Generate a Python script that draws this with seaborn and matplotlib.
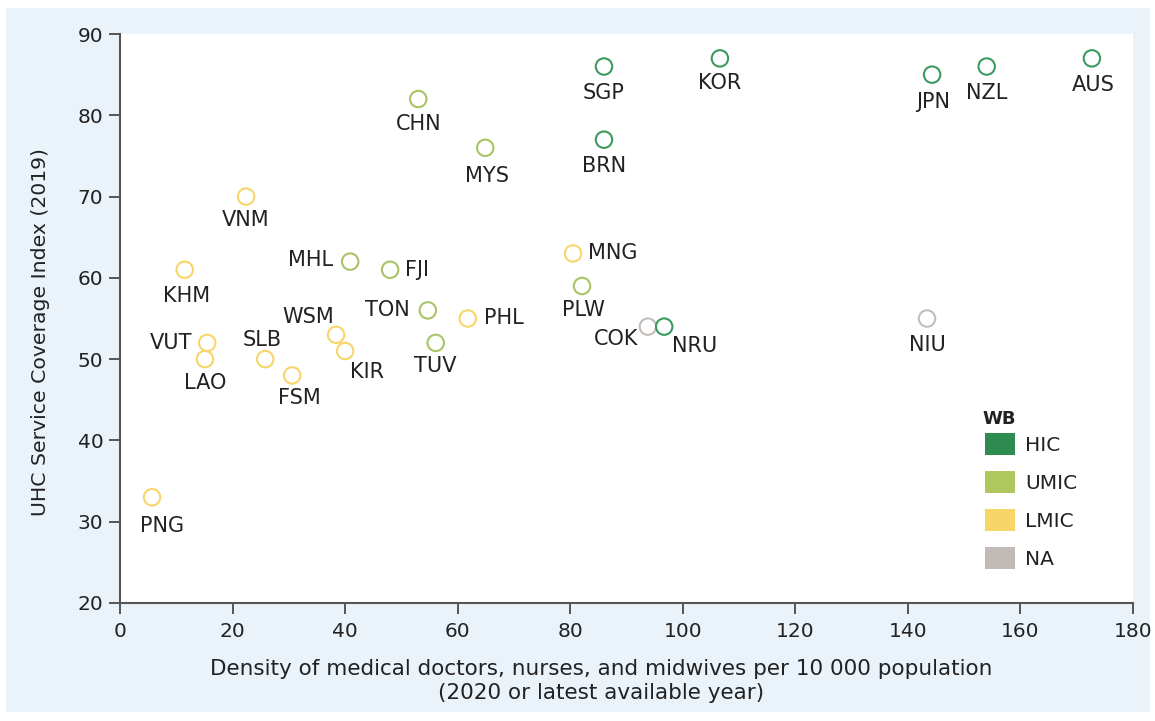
import numpy as np
import pandas as pd
import matplotlib
matplotlib.use("Agg")
import matplotlib.pyplot as plt
import matplotlib.patches as mpatches
import seaborn as sns

# Data
countries = ["PNG", "KHM", "VUT", "LAO", "VNM", "SLB", "FSM", "WSM", "KIR", "MHL",
             "FJI", "CHN", "TON", "TUV", "PHL", "MYS", "MNG", "PLW", "SGP", "BRN",
             "COK", "NRU", "KOR", "NIU", "JPN", "NZL", "AUS"]
density = [5.7, 11.5, 15.5, 15.1, 22.4, 25.8, 30.6, 38.4, 40.0, 40.9,
           48.0, 53.0, 54.7, 56.1, 61.8, 64.9, 80.5, 82.1, 86.0, 86.0,
           93.8, 96.7, 106.6, 143.4, 144.3, 154.0, 172.7]
uhc = [33, 61, 52, 50, 70, 50, 48, 53, 51, 62,
       61, 82, 56, 52, 55, 76, 63, 59, 86, 77,
       54, 54, 87, 55, 85, 86, 87]
income = ["LMIC", "LMIC", "LMIC", "LMIC", "LMIC", "LMIC", "LMIC", "LMIC", "LMIC", "UMIC",
          "UMIC", "UMIC", "UMIC", "UMIC", "LMIC", "UMIC", "LMIC", "UMIC", "HIC", "HIC",
          "NA", "HIC", "HIC", "NA", "HIC", "HIC", "HIC"]
groups = ["HIC", "UMIC", "LMIC", "NA"]
marker_colors = {"HIC": "#3c9a5f", "UMIC": "#a8c466", "LMIC": "#f8d56a", "NA": "#c4bdb9"}
legend_colors = {"HIC": "#2e8b50", "UMIC": "#b0c760", "LMIC": "#f7d568", "NA": "#c2bab6"}

# label offsets in points (dx, dy, ha)
label_pos = {
    "PNG": (7, -21, "center"), "KHM": (1, -19, "center"),
    "VUT": (-11, 0, "right"), "LAO": (0, -17, "center"),
    "VNM": (0, -17, "center"), "SLB": (-2, 14, "center"),
    "FSM": (5, -16, "center"), "WSM": (-20, 13, "center"),
    "KIR": (16, -15, "center"), "MHL": (-12, 1, "right"),
    "FJI": (11, 0, "left"), "CHN": (0, -18, "center"),
    "TON": (-13, 0, "right"), "TUV": (0, -17, "center"),
    "PHL": (12, 0, "left"), "MYS": (1, -20, "center"),
    "MNG": (11, 0, "left"), "PLW": (1, -17, "center"),
    "SGP": (0, -19, "center"), "BRN": (0, -19, "center"),
    "COK": (-7, -9, "right"), "NRU": (22, -14, "center"),
    "KOR": (0, -18, "center"), "NIU": (0, -19, "center"),
    "JPN": (1, -20, "center"), "NZL": (0, -19, "center"),
    "AUS": (1, -19, "center"),
}

df = pd.DataFrame({"country": countries, "density": density, "uhc": uhc, "WB": income})

sns.set_style("ticks")
plt.rcParams["font.family"] = ["DejaVu Sans"]
text_color = "#222222"
fs = 14.5

fig = plt.figure(figsize=(11.55, 7.21), dpi=100)
fig.patch.set_facecolor("white")
fig.patches.append(mpatches.Rectangle((6 / 1155, 1 - 712 / 721), 1144 / 1155, 704 / 721,
                                      transform=fig.transFigure, facecolor="#eaf3fa",
                                      edgecolor="none", zorder=-10))
ax = fig.add_axes([120 / 1155, 1 - 603 / 721, 1013 / 1155, 569 / 721])
ax.set_facecolor("white")

sns.scatterplot(data=df, x="density", y="uhc", hue="WB", hue_order=groups,
                palette=marker_colors, s=140, linewidth=1.5, legend=False, ax=ax, zorder=3)
pts = ax.collections[0]
pts.set_edgecolors(pts.get_facecolors())
pts.set_facecolors("none")

for c, x, y in zip(countries, density, uhc):
    dx, dy, ha = label_pos[c]
    ax.annotate(c, (x, y), xytext=(dx, dy), textcoords="offset points",
                ha=ha, va="center", fontsize=15, color=text_color)

ax.set_xlim(0, 180)
ax.set_ylim(20, 90)
ax.set_xticks(np.arange(0, 181, 20))
ax.set_yticks(np.arange(20, 91, 10))
ax.tick_params(labelsize=fs, colors="#555555", labelcolor=text_color, length=8, width=1.4)
ax.tick_params(axis="x", pad=6)
ax.tick_params(axis="y", pad=4)
for side in ["top", "right"]:
    ax.spines[side].set_visible(False)
for side in ["left", "bottom"]:
    ax.spines[side].set_color("#555555")
    ax.spines[side].set_linewidth(1.5)

ax.set_xlabel("Density of medical doctors, nurses, and midwives per 10 000 population\n(2020 or latest available year)",
              fontsize=15.5, color=text_color, linespacing=1.3, va="center")
ax.xaxis.set_label_coords(0.475, (603 - 681) / 569)
ax.set_ylabel("UHC Service Coverage Index (2019)", fontsize=14.7, color=text_color, va="center")
ax.yaxis.set_label_coords((40 - 120) / 1013, (603 - 332) / 569)

handles = [mpatches.Patch(facecolor=legend_colors[g], edgecolor="none", label=g) for g in groups]
leg = ax.legend(handles=handles, loc="upper left",
                bbox_to_anchor=((985 - 120) / 1013, (603 - 433) / 569),
                frameon=False, fontsize=fs, handlelength=1.5,
                handleheight=1.3, handletextpad=0.5, labelspacing=0.8,
                borderpad=0, borderaxespad=0)
for t in leg.get_texts():
    t.set_color(text_color)
ax.text((982 - 120) / 1013, (603 - 419) / 569, "WB", transform=ax.transAxes,
        ha="left", va="center", fontsize=13, fontweight="bold", color=text_color)

fig.savefig("out.png", dpi=100, facecolor=fig.get_facecolor())
